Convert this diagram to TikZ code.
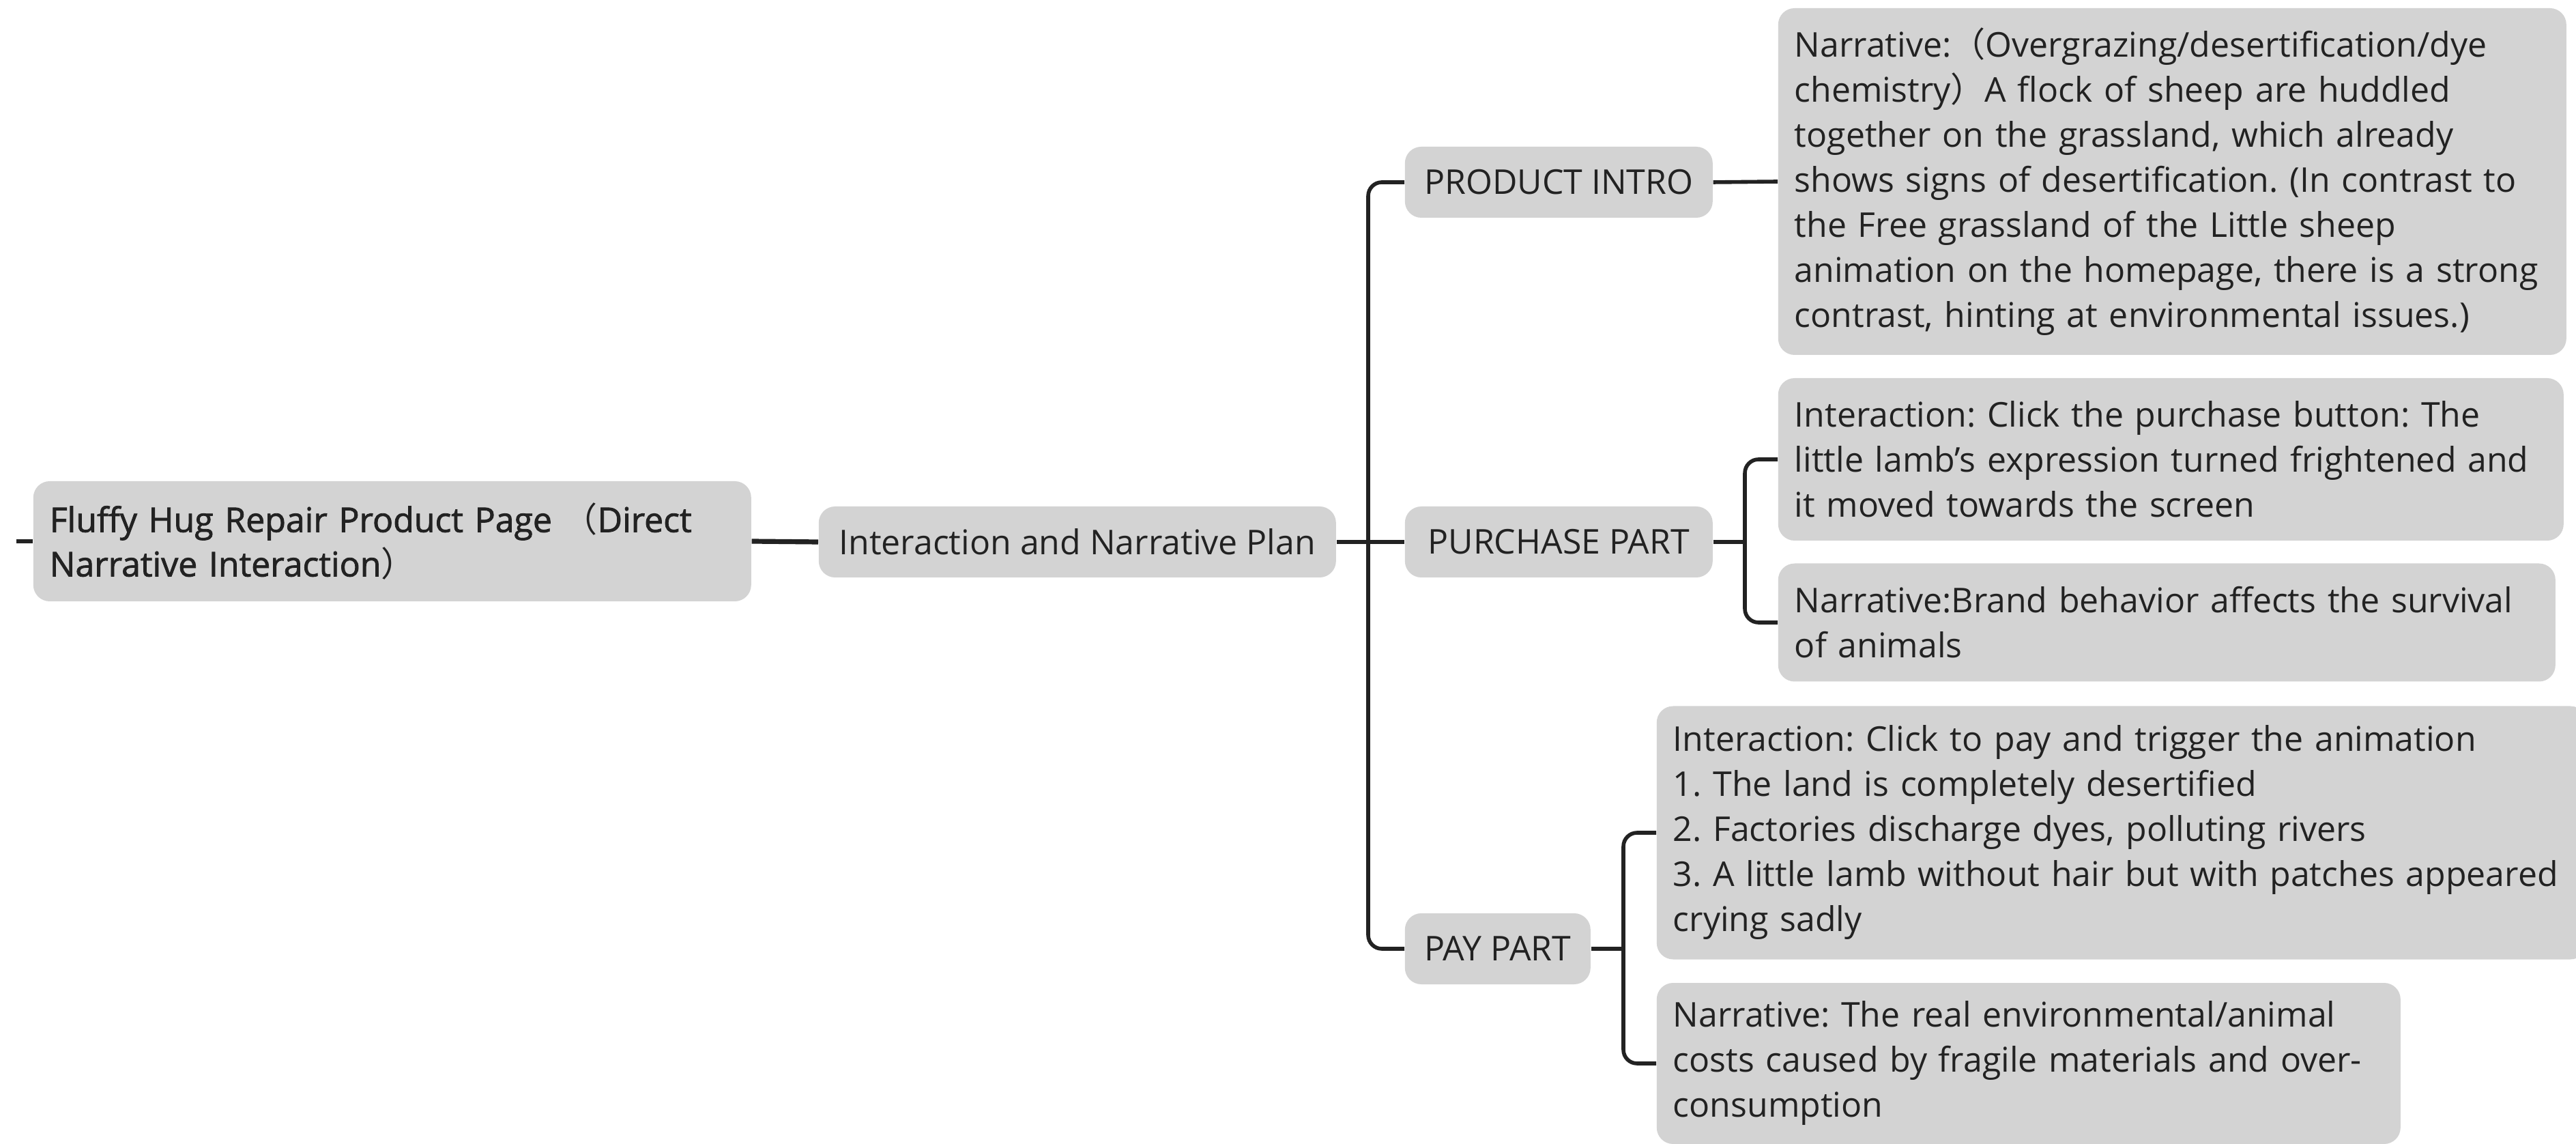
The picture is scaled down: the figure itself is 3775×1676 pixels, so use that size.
\documentclass[tikz,border=0pt]{standalone}
\usepackage{fontspec}
\setmainfont{Open Sans}
\newfontfamily\rootfont[FakeBold=1.6]{Open Sans}
\newfontfamily\cjk{Noto Sans CJK SC}
\usepackage{tikz}
\usetikzlibrary{shapes}
\frenchspacing
\definecolor{boxgray}{HTML}{D3D3D3}
\definecolor{inkgray}{HTML}{222222}
\newcommand{\lp}{{\cjk （}}
\newcommand{\rp}{{\cjk ）}}
\newcommand{\nohyph}{\hyphenpenalty10000\relax}
\tikzstyle{box} = [fill=boxgray, rounded corners=6pt, text=inkgray, inner xsep=6pt, inner ysep=0pt, anchor=west, font=\fontsize{12.5}{16.5}\selectfont]
\tikzstyle{part} = [box, minimum height=26pt]
\tikzstyle{note} = [box, align=left, execute at begin node={\nohyph}]
\tikzstyle{line} = [draw=inkgray, line width=1.4pt, rounded corners=5pt]

\begin{document}
\begin{tikzpicture}[x=0.25pt, y=-0.25pt]
  \useasboundingbox (0,0) rectangle (3775,1676);

  \node[note, text width=251pt, minimum height=44pt, font=\rootfont\fontsize{12.5}{16.25}\selectfont] (root) at (48,793)
    {Fluffy Hug Repair Product Page \lp Direct\\Narrative Interaction\rp};
  \node[part, minimum width=189.5pt] (plan) at (1199,794) {Interaction and Narrative Plan};

  \node[part, minimum width=112.75pt] (intro) at (2058,267) {PRODUCT INTRO};
  \node[part, minimum width=112.75pt] (purchase) at (2058,794) {PURCHASE PART};
  \node[part, minimum width=68pt] (pay) at (2058,1390) {PAY PART};

  \node[note, text width=276.75pt, minimum height=127pt] (introtxt) at (2605,266)
    {Narrative:\lp Overgrazing/desertification/dye\\
     chemistry\rp A flock of sheep are huddled\\
     together on the grassland, which already\\
     shows signs of desertification. (In contrast to\\
     the Free grassland of the Little sheep\\
     animation on the homepage, there is a strong\\
     contrast, hinting at environmental issues.)};
  \node[note, text width=275.75pt, minimum height=59.5pt] (buyclick) at (2605,673)
    {Interaction: Click the purchase button: The\\
     little lamb's expression turned frightened and\\
     it moved towards the screen};
  \node[note, text width=272.75pt, minimum height=43.25pt] (buystory) at (2605,912)
    {Narrative:Brand behavior affects the survival\\
     of animals};
  \node[note, text width=328.75pt, minimum height=92.75pt] (payclick) at (2427,1220)
    {Interaction: Click to pay and trigger the animation\\
     1. The land is completely desertified\\
     2. Factories discharge dyes, polluting rivers\\
     3. A little lamb without hair but with patches appeared\\
     crying sadly};
  \node[note, text width=260.5pt, minimum height=59pt] (paystory) at (2427,1558)
    {Narrative: The real environmental/animal\\
     costs caused by fragile materials and over-\\
     consumption};

  \coordinate (stub) at (24,793);
  \coordinate (trunk) at (2005,794);
  \coordinate (buyfork) at (2557,794);
  \coordinate (payfork) at (2379,1390);

  \draw[line] (stub) -- (root.west);
  \draw[line, line width=1.8pt] (root.east) -- (plan.west);
  \draw[line] (plan.east) -- (purchase.west);
  \draw[line] (trunk) |- (intro.west);
  \draw[line] (trunk) |- (pay.west);
  \draw[line] (intro.east) -- (introtxt.west);
  \draw[line] (purchase.east) -- (buyfork);
  \draw[line] (buyfork) |- (buyclick.west);
  \draw[line] (buyfork) |- (buystory.west);
  \draw[line] (pay.east) -- (payfork);
  \draw[line] (payfork) |- (payclick.west);
  \draw[line] (payfork) |- (paystory.west);
\end{tikzpicture}
\end{document}
